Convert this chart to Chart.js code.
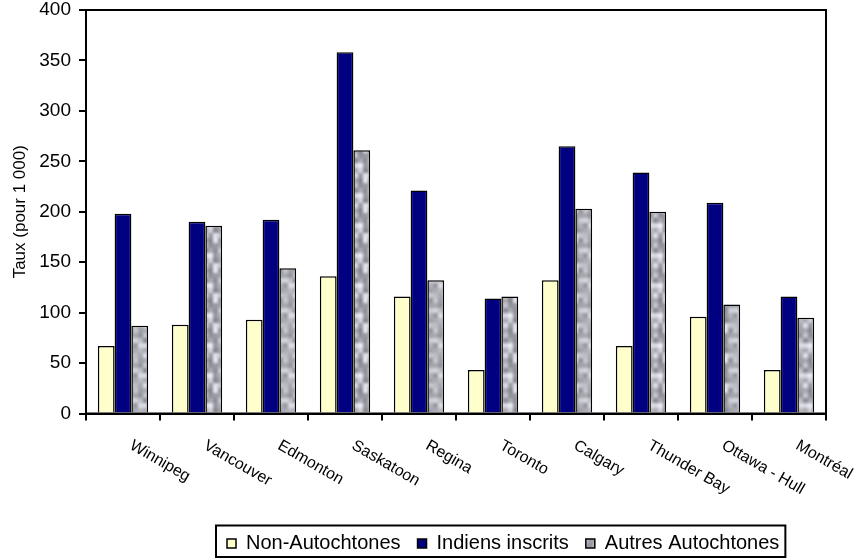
<!DOCTYPE html>
<html>
<head>
<meta charset="utf-8">
<script src="https://cdn.jsdelivr.net/npm/chart.js@4/dist/chart.umd.min.js"></script>
<style>
  html, body { margin: 0; padding: 0; background: #fff; }
  #wrap { width: 860px; height: 559px; }
</style>
</head>
<body>
<div id="wrap"><canvas id="c" width="860" height="559"></canvas></div>
<script>
// Rates per 1 000 population, by city
const cities = ['Winnipeg', 'Vancouver', 'Edmonton', 'Saskatoon', 'Regina', 'Toronto', 'Calgary', 'Thunder Bay', 'Ottawa - Hull', 'Montréal'];
const nonAutochtones   = [67, 88, 93, 136, 116, 43, 132, 67, 96, 43];
const indiensInscrits  = [198, 190, 192, 358, 221, 114, 265, 239, 209, 116];
const autresAutochtones = [87, 186, 144, 261, 132, 116, 203, 200, 108, 95];
const seriesNames = ['Non-Autochtones', 'Indiens inscrits', 'Autres Autochtones'];
const yMax = 400;
const yStep = 25;
const yLabelStep = 50;

const FONT = '"Liberation Sans", Arial, sans-serif';
const LEGEND_FIRST_BOX_X = 227;

// Mottled grey fill (tileable value noise built from an integer hash)
function greyTexture() {
  const size = 30, cell = 5, n = size / cell;
  const hash = (i, j) => {
    let h = ((i % n + n) % n) * 374761393 + ((j % n + n) % n) * 668265263;
    h = (h ^ (h >>> 13)) * 1274126177;
    h = h ^ (h >>> 16);
    return ((h >>> 0) % 1000) / 1000;
  };
  const smooth = t => t * t * (3 - 2 * t);
  const c = document.createElement('canvas');
  c.width = size; c.height = size;
  const g = c.getContext('2d');
  const img = g.createImageData(size, size);
  for (let y = 0; y < size; y++) {
    for (let x = 0; x < size; x++) {
      const gx = x / cell, gy = y / cell;
      const i = Math.floor(gx), j = Math.floor(gy);
      const fx = smooth(gx - i), fy = smooth(gy - j);
      const a = hash(i, j), b = hash(i + 1, j), c2 = hash(i, j + 1), d = hash(i + 1, j + 1);
      const v = (a * (1 - fx) + b * fx) * (1 - fy) + (c2 * (1 - fx) + d * fx) * fy;
      const val = Math.max(0, Math.min(255, Math.round(135 + 100 * v)));
      const k = (y * size + x) * 4;
      img.data[k] = val; img.data[k + 1] = val; img.data[k + 2] = Math.min(255, val + 8); img.data[k + 3] = 255;
    }
  }
  g.putImageData(img, 0, 0);
  return g.createPattern(c, 'repeat');
}

// Frame around the plot area, rotated city names and a box around the legend
const decorations = {
  id: 'decorations',
  afterUpdate(chart) {
    const lg = chart.legend;
    if (!lg || !lg.legendHitBoxes.length) return;
    const tops = lg.legendHitBoxes.map(b => b.top);
    const dx = LEGEND_FIRST_BOX_X - lg.legendHitBoxes[0].left;
    lg.left += dx;
    lg.right += dx;
    lg.adjustHitBoxes();
    lg.legendHitBoxes.forEach((b, i) => { b.top = tops[i]; });
  },
  afterDraw(chart) {
    const { ctx, chartArea: a, scales: { x } } = chart;
    ctx.save();
    ctx.strokeStyle = '#000';
    ctx.lineWidth = 2;
    ctx.strokeRect(a.left, a.top, a.right - a.left, a.bottom - a.top);

    ctx.fillStyle = '#000';
    ctx.font = '16px ' + FONT;
    ctx.textAlign = 'left';
    ctx.textBaseline = 'top';
    cities.forEach((name, i) => {
      const px = x.getPixelForValue(i);
      ctx.save();
      ctx.translate(px + 12, a.bottom + 24);
      ctx.rotate(Math.PI / 6);
      ctx.fillText(name, 0, 0);
      ctx.restore();
    });

    const boxes = chart.legend.legendHitBoxes;
    if (boxes && boxes.length) {
      const l = Math.min(...boxes.map(b => b.left)) - 11;
      const r = Math.max(...boxes.map(b => b.left + b.width)) + 6;
      const t = boxes[0].top - 8;
      const b = boxes[0].top + boxes[0].height + 3.5;
      ctx.lineWidth = 2;
      ctx.strokeRect(l, t, r - l, b - t);
    }
    ctx.restore();
  }
};

const grey = greyTexture();

new Chart(document.getElementById('c'), {
  type: 'bar',
  data: {
    labels: cities,
    datasets: [
      { label: seriesNames[0], data: nonAutochtones, backgroundColor: '#FFFFCC', borderColor: '#000', borderWidth: 1.5 },
      { label: seriesNames[1], data: indiensInscrits, backgroundColor: '#000080', borderColor: '#000', borderWidth: 1.5 },
      { label: seriesNames[2], data: autresAutochtones, backgroundColor: grey, borderColor: '#000', borderWidth: 1.5 }
    ]
  },
  options: {
    responsive: false,
    animation: false,
    devicePixelRatio: 1,
    categoryPercentage: 0.68,
    barPercentage: 1.0,
    layout: { padding: { left: 0, top: 10, right: 34, bottom: -4.5 } },
    plugins: {
      tooltip: { enabled: false },
      legend: {
        position: 'bottom',
        labels: {
          color: '#000',
          font: { family: FONT, size: 20 },
          boxWidth: 9,
          boxHeight: 9,
          padding: 17
        }
      }
    },
    scales: {
      x: {
        grid: { display: true, offset: true, drawOnChartArea: false, drawTicks: true, tickLength: 7, color: '#000', lineWidth: 2 },
        border: { display: true, color: '#000', width: 2 },
        ticks: { display: false },
        afterFit(scale) { scale.height = 103; }
      },
      y: {
        min: 0,
        max: yMax,
        grid: { display: true, drawOnChartArea: false, drawTicks: true, tickLength: 7, color: '#000', lineWidth: 2 },
        border: { display: true, color: '#000', width: 2 },
        ticks: {
          stepSize: yStep,
          padding: 8,
          color: '#000',
          font: { family: FONT, size: 19 },
          callback: v => (v % yLabelStep === 0 ? String(v) : '')
        },
        title: {
          display: true,
          text: 'Taux (pour 1 000)',
          color: '#000',
          font: { family: FONT, size: 17 },
          padding: { top: 10, bottom: 0 }
        },
        afterFit(scale) {
          scale.width = 86;
          scale.paddingTop = 0;
          scale.paddingBottom = 0;
        }
      }
    }
  },
  plugins: [decorations]
});
</script>
</body>
</html>
